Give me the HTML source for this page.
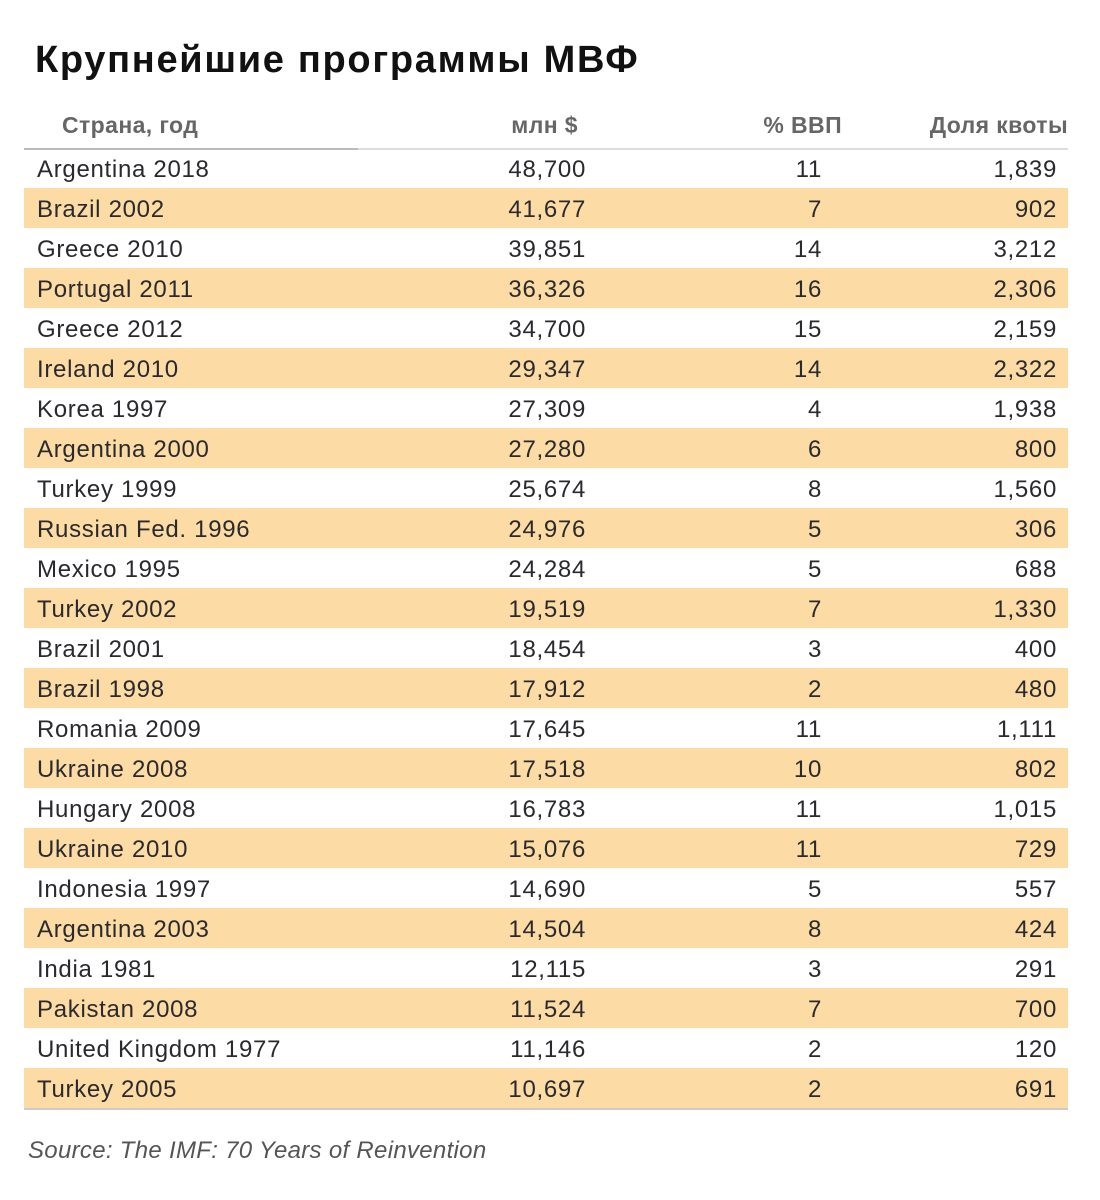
<!DOCTYPE html>
<html><head><meta charset="utf-8"><style>
body{margin:0;width:1100px;height:1200px;background:#fff;font-family:"Liberation Sans","DejaVu Sans",sans-serif;position:relative;overflow:hidden;color:#2a2a2e}
.t{position:absolute;left:35px;top:39px;font-size:38px;font-weight:bold;color:#111;letter-spacing:1.7px}
.h{position:absolute;top:112px;font-size:23px;font-weight:bold;color:#666;white-space:nowrap;letter-spacing:0.4px}
.r{position:absolute;left:24px;width:1044px;height:40px;font-size:24px;line-height:44px;letter-spacing:0.7px}
.r span{position:absolute;white-space:nowrap}
.s{background:#fcdca4}
.c0{left:13px}.c1{right:482px}.c2{right:246px}.c3{right:11px}
.ln{position:absolute;left:24px;width:1044px;height:1px;background:#d0d0d0}
.src{position:absolute;left:28px;top:1137px;font-size:24px;font-style:italic;color:#555;letter-spacing:0.3px}
</style></head><body>
<div class="t">Крупнейшие программы МВФ</div>
<div class="h" style="left:62px">Страна, год</div>
<div class="h" style="right:522px">млн $</div>
<div class="h" style="right:258px">% ВВП</div>
<div class="h" style="right:32px">Доля квоты</div>
<div class="ln" style="top:148px;height:2px;background:#ddd"></div>
<div class="ln" style="top:148px;height:2px;width:334px;background:#bbb"></div>
<div id="rows"></div>
<div class="ln" style="top:1108px;height:2px;background:#ccc"></div>
<script>
var d=[["Argentina 2018","48,700","11","1,839"],["Brazil 2002","41,677","7","902"],["Greece 2010","39,851","14","3,212"],["Portugal 2011","36,326","16","2,306"],["Greece 2012","34,700","15","2,159"],["Ireland 2010","29,347","14","2,322"],["Korea 1997","27,309","4","1,938"],["Argentina 2000","27,280","6","800"],["Turkey 1999","25,674","8","1,560"],["Russian Fed. 1996","24,976","5","306"],["Mexico 1995","24,284","5","688"],["Turkey 2002","19,519","7","1,330"],["Brazil 2001","18,454","3","400"],["Brazil 1998","17,912","2","480"],["Romania 2009","17,645","11","1,111"],["Ukraine 2008","17,518","10","802"],["Hungary 2008","16,783","11","1,015"],["Ukraine 2010","15,076","11","729"],["Indonesia 1997","14,690","5","557"],["Argentina 2003","14,504","8","424"],["India 1981","12,115","3","291"],["Pakistan 2008","11,524","7","700"],["United Kingdom 1977","11,146","2","120"],["Turkey 2005","10,697","2","691"]];
var h="";d.forEach(function(r,i){h+='<div class="r'+(i%2?' s':'')+'" style="top:'+(148+i*40)+'px"><span class="c0">'+r[0]+'</span><span class="c1">'+r[1]+'</span><span class="c2">'+r[2]+'</span><span class="c3">'+r[3]+'</span></div>';});
document.getElementById("rows").innerHTML=h;
</script>
<div class="src">Source: The IMF: 70 Years of Reinvention</div>
</body></html>
